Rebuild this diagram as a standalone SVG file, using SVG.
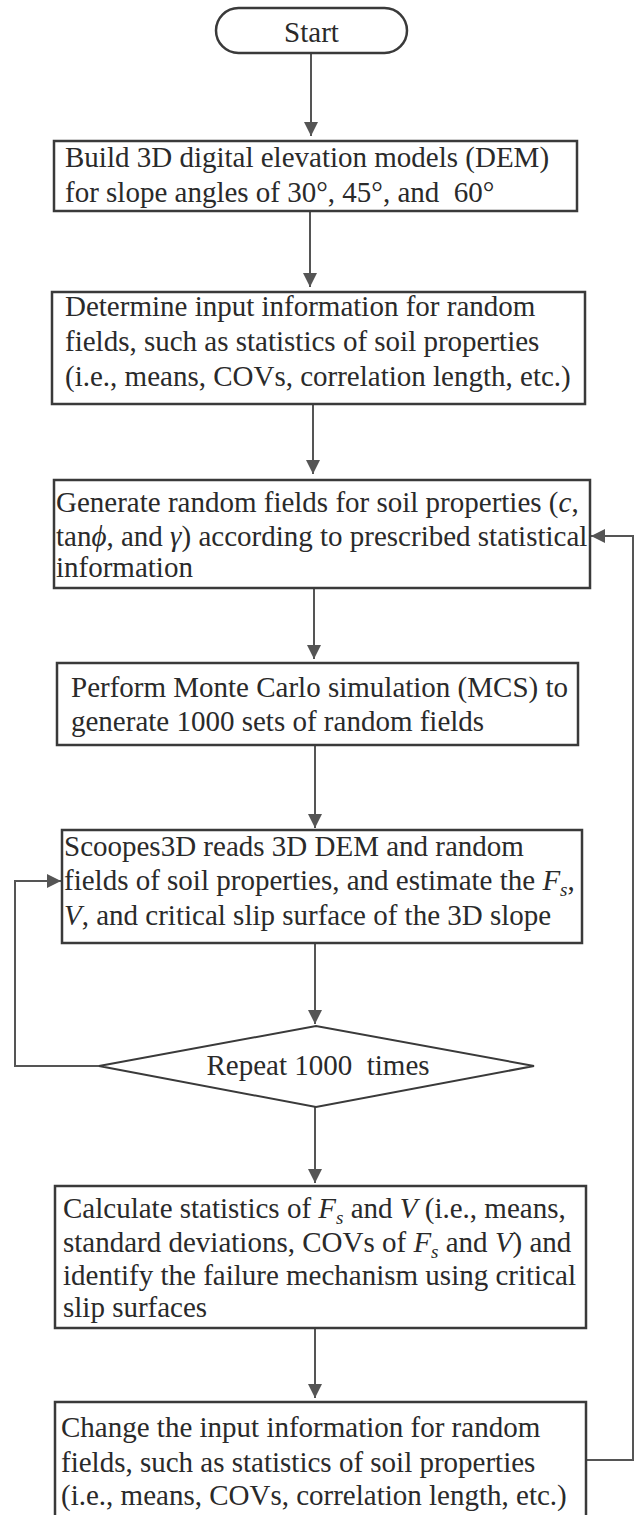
<svg xmlns="http://www.w3.org/2000/svg" width="636" height="1515" viewBox="0 0 636 1515">
<style>
.box{fill:#fff;stroke:#3a3a3a;stroke-width:2.5}
.t{font-family:"Liberation Serif","Times New Roman",serif;font-size:29px;fill:#2a2a2a}
.i{font-style:italic}
.c{fill:none;stroke:#555;stroke-width:2}
</style>
<defs>
<marker id="ah" viewBox="0 0 14 14" refX="14" refY="7" markerWidth="14" markerHeight="14" markerUnits="userSpaceOnUse" orient="auto">
<path d="M0,0 L14,7 L0,14 z" fill="#555"/>
</marker>
</defs>
<rect width="636" height="1515" fill="#fff"/>
<g id="connectors">
<line class="c" x1="311" y1="53" x2="311" y2="136" marker-end="url(#ah)"/>
<line class="c" x1="310" y1="211" x2="310" y2="287" marker-end="url(#ah)"/>
<line class="c" x1="313" y1="404" x2="313" y2="474" marker-end="url(#ah)"/>
<line class="c" x1="314" y1="588" x2="314" y2="659" marker-end="url(#ah)"/>
<line class="c" x1="315" y1="745" x2="315" y2="828" marker-end="url(#ah)"/>
<line class="c" x1="315" y1="943" x2="315" y2="1024" marker-end="url(#ah)"/>
<line class="c" x1="315" y1="1107" x2="315" y2="1183" marker-end="url(#ah)"/>
<line class="c" x1="315" y1="1328" x2="315" y2="1398" marker-end="url(#ah)"/>
<polyline class="c" points="99,1066 15,1066 15,881 61,881" marker-end="url(#ah)"/>
<polyline class="c" points="586,1460 633,1460 633,536 591,536" marker-end="url(#ah)"/>
</g>
<g id="start">
<rect class="box" x="216" y="8" width="191" height="45" rx="22.5"/>
<text class="t" x="311.5" y="42" text-anchor="middle" font-size="30">Start</text>
</g>
<g id="dem">
<rect class="box" x="54" y="141" width="523" height="70"/>
<text class="t" x="65" y="167">Build 3D digital elevation models (DEM)</text>
<text class="t" x="65" y="202" xml:space="preserve">for slope angles of 30°, 45°, and  60°</text>
</g>
<g id="input">
<rect class="box" x="52" y="292" width="533" height="112"/>
<text class="t" x="65" y="316">Determine input information for random</text>
<text class="t" x="65" y="351">fields, such as statistics of soil properties</text>
<text class="t" x="65" y="386">(i.e., means, COVs, correlation length, etc.)</text>
</g>
<g id="generate">
<rect class="box" x="54" y="480" width="536" height="108"/>
<text class="t" x="56" y="512">Generate random fields for soil properties (<tspan class="i">c</tspan>,</text>
<text class="t" x="56" y="546">tan<tspan class="i">ϕ</tspan>, and <tspan class="i">γ</tspan>) according to prescribed statistical</text>
<text class="t" x="56" y="577">information</text>
</g>
<g id="mcs">
<rect class="box" x="57" y="663" width="521" height="82"/>
<text class="t" x="71" y="697">Perform Monte Carlo simulation (MCS) to</text>
<text class="t" x="71" y="731">generate 1000 sets of random fields</text>
</g>
<g id="scoopes">
<rect class="box" x="62" y="830" width="520" height="113"/>
<text class="t" x="64" y="856">Scoopes3D reads 3D DEM and random</text>
<text class="t" x="64" y="890">fields of soil properties, and estimate the <tspan class="i">F</tspan><tspan class="i" font-size="19" dy="6">s</tspan><tspan dy="-6">,</tspan></text>
<text class="t" x="64" y="925"><tspan class="i">V</tspan>, and critical slip surface of the 3D slope</text>
</g>
<g id="repeat">
<polygon class="box" points="99,1066 316,1026 534,1066 316,1107" style="stroke-width:2"/>
<text class="t" x="318" y="1075" text-anchor="middle" xml:space="preserve">Repeat 1000  times</text>
</g>
<g id="stats">
<rect class="box" x="55" y="1186" width="531" height="142"/>
<text class="t" x="63" y="1218">Calculate statistics of <tspan class="i">F</tspan><tspan class="i" font-size="19" dy="6">s</tspan><tspan dy="-6"> and </tspan><tspan class="i">V</tspan> (i.e., means,</text>
<text class="t" x="63" y="1252">standard deviations, COVs of <tspan class="i">F</tspan><tspan class="i" font-size="19" dy="6">s</tspan><tspan dy="-6"> and </tspan><tspan class="i">V</tspan>) and</text>
<text class="t" x="63" y="1285">identify the failure mechanism using critical</text>
<text class="t" x="63" y="1317">slip surfaces</text>
</g>
<g id="change">
<rect class="box" x="55" y="1402" width="531" height="130"/>
<text class="t" x="61" y="1437">Change the input information for random</text>
<text class="t" x="61" y="1472">fields, such as statistics of soil properties</text>
<text class="t" x="61" y="1505">(i.e., means, COVs, correlation length, etc.)</text>
</g>
</svg>
